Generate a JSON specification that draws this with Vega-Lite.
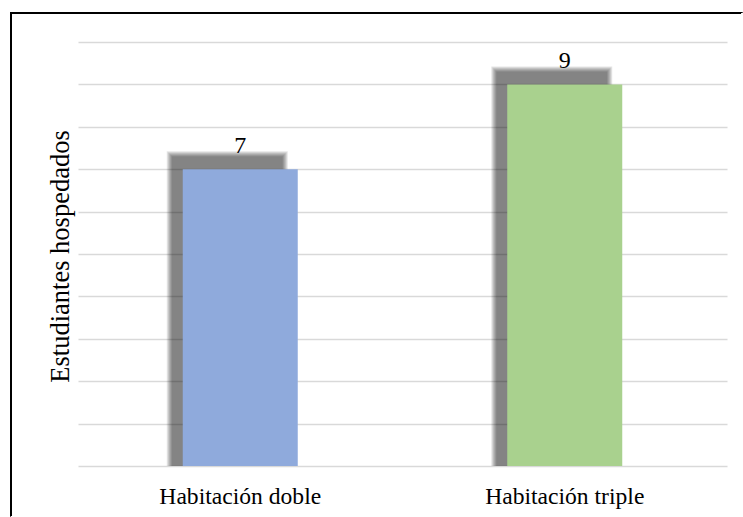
{
  "$schema": "https://vega.github.io/schema/vega-lite/v6.json",
  "width": 732,
  "height": 504,
  "autosize": {"type": "none"},
  "padding": {"left": 11, "top": 13, "right": 0, "bottom": 0},
  "background": "white",
  "config": {
    "view": {
      "stroke": {
        "gradient": "linear",
        "x1": 0, "y1": 0, "x2": 1, "y2": 1,
        "stops": [
          {"offset": 0, "color": "#000000"},
          {"offset": 0.499, "color": "#000000"},
          {"offset": 0.4995, "color": "#ffffff"},
          {"offset": 1, "color": "#ffffff"}
        ]
      },
      "strokeWidth": 2
    },
    "font": "Liberation Serif"
  },
  "data": {
    "values": [
      {"tipo": "Habitación doble", "estudiantes": 7},
      {"tipo": "Habitación triple", "estudiantes": 9}
    ]
  },
  "encoding": {
    "x": {
      "field": "tipo",
      "type": "nominal",
      "sort": null,
      "scale": {"range": [67, 716], "paddingInner": 0.6456, "paddingOuter": 0.3228},
      "axis": {
        "title": null,
        "orient": "bottom",
        "offset": -51,
        "domain": false,
        "ticks": false,
        "labelAngle": 0,
        "labelFont": "Liberation Serif",
        "labelFontSize": 23.6,
        "labelColor": "#000000",
        "labelBaseline": "alphabetic",
        "labelPadding": 37
      }
    },
    "y": {
      "field": "estudiantes",
      "type": "quantitative",
      "stack": null,
      "scale": {"domain": [0, 10], "range": [453, 29], "nice": false},
      "axis": {
        "title": "Estudiantes hospedados",
        "titleFont": "Liberation Serif",
        "titleFontSize": 26.5,
        "titleFontWeight": "normal",
        "titleColor": "#000000",
        "titleBaseline": "alphabetic",
        "titleX": 57,
        "titleY": 243,
        "titleAngle": -90,
        "labels": false,
        "ticks": false,
        "domain": false,
        "grid": true,
        "gridColor": "#d9d9d9",
        "gridWidth": 1.3,
        "values": [0, 1, 2, 3, 4, 5, 6, 7, 8, 9, 10]
      }
    }
  },
  "layer": [
    {
      "mark": {"type": "bar", "color": "#000000", "opacity": 0.1, "width": {"band": 1.0522}, "xOffset": -13, "yOffset": -18},
      "encoding": {}
    },
    {
      "mark": {"type": "bar", "color": "#000000", "opacity": 0.1, "width": {"band": 1.0348}, "xOffset": -13, "yOffset": -17},
      "encoding": {}
    },
    {
      "mark": {"type": "bar", "color": "#000000", "opacity": 0.1, "width": {"band": 1.0174}, "xOffset": -13, "yOffset": -16},
      "encoding": {}
    },
    {
      "mark": {"type": "bar", "color": "#000000", "opacity": 0.1, "xOffset": -13, "yOffset": -15},
      "encoding": {}
    },
    {
      "mark": {"type": "bar", "color": "#000000", "opacity": 0.1, "width": {"band": 0.9826}, "xOffset": -13, "yOffset": -14},
      "encoding": {}
    },
    {
      "mark": {"type": "bar", "color": "#000000", "opacity": 0.1, "width": {"band": 0.9652}, "xOffset": -13, "yOffset": -13},
      "encoding": {}
    },
    {
      "mark": {"type": "bar"},
      "encoding": {
        "color": {
          "field": "tipo",
          "type": "nominal",
          "sort": null,
          "scale": {"range": ["#8FAADC", "#A9D18E"]},
          "legend": null
        }
      }
    },
    {
      "mark": {"type": "text", "baseline": "alphabetic", "dy": -16, "fontSize": 24, "font": "Liberation Serif", "color": "#000000"},
      "encoding": {"text": {"field": "estudiantes", "type": "quantitative"}}
    }
  ]
}
